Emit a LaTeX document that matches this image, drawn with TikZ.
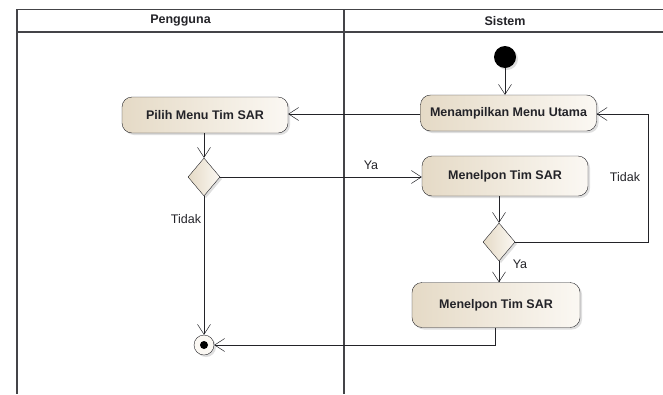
\documentclass[tikz,border=0pt]{standalone}
\usepackage{fontspec}
\setmainfont{Liberation Sans}
\usetikzlibrary{shapes.geometric}
\usetikzlibrary{arrows.meta}
\usetikzlibrary{shadows}
\usepackage{xcolor}
\definecolor{eatan}{RGB}{229,218,198}
\definecolor{ealight}{RGB}{251,248,243}
\definecolor{ealine}{RGB}{35,35,40}

\begin{document}
\begin{tikzpicture}[x=1pt, y=-1pt,
	bayang/.style={drop shadow={shadow xshift=2pt, shadow yshift=-2pt, fill=black!25}},
	aksi/.style={draw=ealine, rounded corners=10pt, left color=eatan, right color=ealight, bayang, inner sep=0pt, font=\fontsize{12.5}{15}\selectfont\bfseries, text=ealine},
	putusan/.style={diamond, draw=ealine, left color=eatan, right color=ealight, bayang, inner sep=0pt, minimum width=32pt, minimum height=38pt},
	alir/.style={draw=ealine, line width=0.6pt, -{Straight Barb[length=10pt,width=13pt,line width=0.5pt]}},
	ket/.style={font=\fontsize{12.5}{15}\selectfont, text=ealine}]
	\useasboundingbox (0,0) rectangle (663,394);
	
	% jalur
	\draw[line width=1.2pt, draw=ealine!85] (663,9.5) -- (17,9.5) -- (17,394);
	\draw[line width=1.2pt, draw=ealine!85] (17,32) -- (663,32);
	\draw[line width=1.2pt, draw=ealine!85] (344,9.5) -- (344,394);
	\node[font=\fontsize{12.5}{14}\selectfont\bfseries, text=ealine] (lajurA) at (180.5,21) {Pengguna};
	\node[font=\fontsize{12.5}{14}\selectfont\bfseries, text=ealine] (lajurB) at (505,21) {Sistem};
	
	\node[circle, fill=black, minimum size=22pt, inner sep=0pt, bayang] (mulai) at (505,57) {};
	\node[aksi, minimum width=176pt, minimum height=36pt] (menu) at (508.5,113) {Menampilkan Menu Utama};
	\node[aksi, minimum width=166pt, minimum height=36pt] (pilih) at (205,115) {Pilih Menu Tim SAR};
	\node[putusan] (cek1) at (204,177) {};
	\node[aksi, minimum width=166pt, minimum height=40pt] (telpon1) at (505,176) {Menelpon Tim SAR};
	\node[putusan] (cek2) at (499,242) {};
	\node[aksi, minimum width=168pt, minimum height=45pt] (telpon2) at (496,305) {Menelpon Tim SAR};
	\node[circle, draw=ealine, fill=ealight, minimum size=20pt, inner sep=0pt, bayang] (selesai) at (204,345) {};
	\node[circle, fill=black, minimum size=8pt, inner sep=0pt] at (selesai) {};
	
	\coordinate (balikA) at (648,242);
	\coordinate (balikB) at (648,114);
	\coordinate (turun) at (495,345);
	
	\draw[alir] (mulai) -- (menu.north -| mulai);
	\draw[alir] (menu.west |- balikB) -- (pilih.east |- balikB);
	\draw[alir] (pilih.south -| cek1) -- (cek1.north);
	\draw[alir] (cek1.east) -- (telpon1.west |- cek1.east);
	\draw[alir] (cek1.south) -- (selesai.north);
	\draw[alir] (telpon1.south -| cek2) -- (cek2.north);
	\draw[alir] (cek2.east) -- (balikA) -- (balikB) -- (menu.east |- balikB);
	\draw[alir] (cek2.south) -- (telpon2.north -| cek2);
	\draw[alir] (telpon2.south -| turun) -- (turun) -- (selesai.east);
	
	\node[ket] (ya1) at (371,165) {Ya};
	\node[ket] (tidak1) at (186,219) {Tidak};
	\node[ket] (tidak2) at (625,177) {Tidak};
	\node[ket] (ya2) at (520,264) {Ya};
\end{tikzpicture}
\end{document}
